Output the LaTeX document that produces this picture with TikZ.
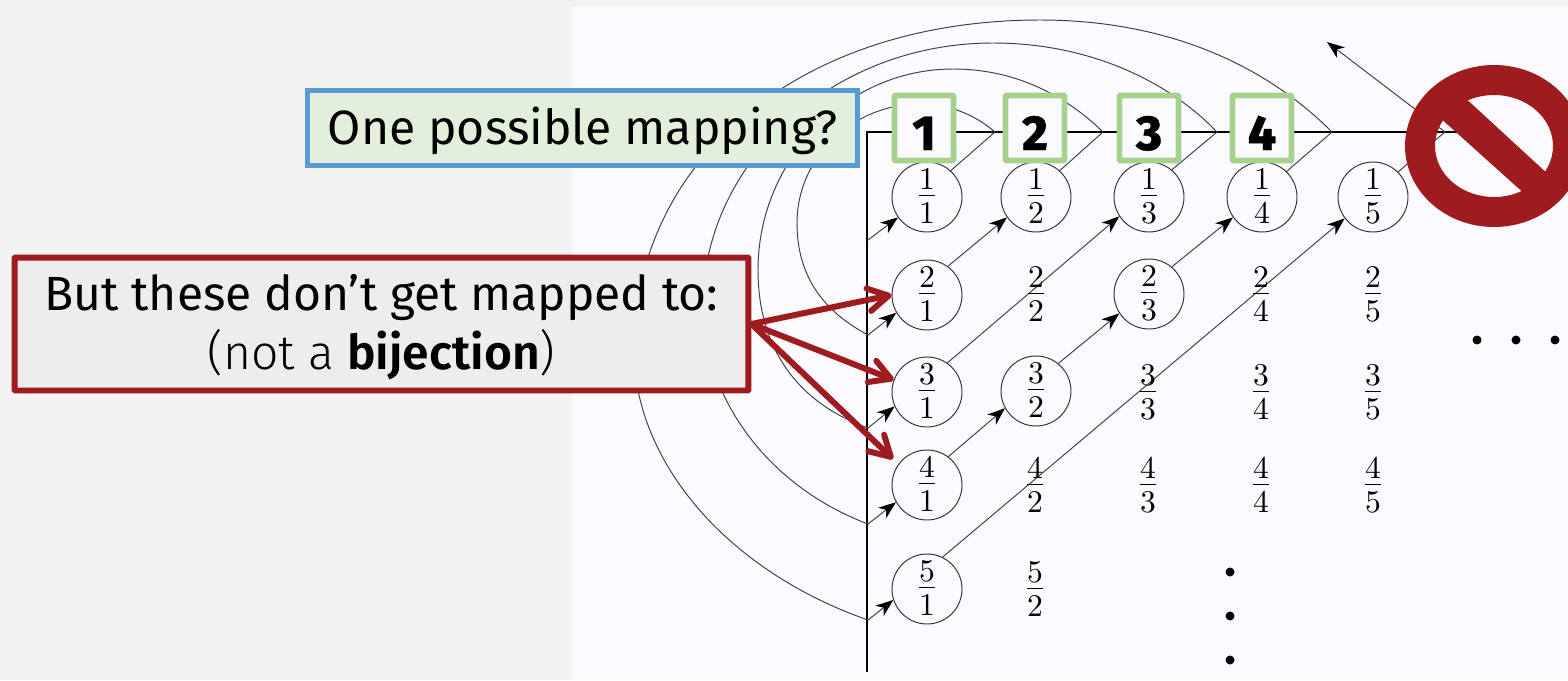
\documentclass[tikz,border=0pt]{standalone}
\usepackage{amsmath}
\usepackage{fontspec}
\setmainfont{Fira Sans}
\newfontfamily\firalight{Fira Sans Light}
\newfontfamily\firasemi{Fira Sans SemiBold}
\newfontfamily\firaheavy[FakeBold=0.6]{Fira Sans ExtraBold}
\usetikzlibrary{positioning, arrows.meta}

\definecolor{panelgray}{HTML}{F2F2F2}
\definecolor{slidewhite}{HTML}{FBFBFF}
\definecolor{warnred}{HTML}{9E1B20}
\definecolor{notegreen}{HTML}{E2EFDA}
\definecolor{noteblue}{HTML}{5B9BD5}
\definecolor{boxgreen}{HTML}{A9D18E}
\definecolor{notegray}{HTML}{EDEDED}

\newcommand{\scfrac}[2]{\scalebox{1.8}{$\dfrac{\raisebox{-2.2pt}{$#1$}}{\raisebox{0.6pt}{$#2$}}$}}
\newcommand{\lowtext}[1]{\raisebox{-1.8pt}[\height][\depth]{#1}}

\tikzset{
  fracnode/.style={inner sep=0pt},
  circnode/.style={fracnode, draw=black!80, line width=0.55pt, circle, minimum size=1.4cm},
  numbox/.style={draw=boxgreen, fill=slidewhite, line width=3.3pt, rounded corners=0.5pt, minimum width=1.18cm, minimum height=1.3cm, inner sep=0pt, text height=0.88cm, text depth=0pt, font=\firaheavy\fontsize{28}{30}\selectfont},
  thinline/.style={draw=black!75, line width=0.55pt},
  thinarrow/.style={thinline, -{Stealth[black,length=10pt,width=7.5pt,inset=3pt]}},
  axisline/.style={line width=1.5pt},
  redarrow/.style={draw=warnred, line width=3.4pt, line cap=round, -{Straight Barb[round,length=11.5pt,width=13pt]}},
  dotnode/.style={circle, fill=black, inner sep=0pt, minimum size=0.18cm},
}

\begin{document}
\begin{tikzpicture}[x=0.02cm,y=-0.02cm]
\useasboundingbox (0,0) rectangle (1568,680);
\fill[panelgray] (0,0) rectangle (1568,680);
\fill[slidewhite] (572,6) rectangle (1568,680);

\coordinate (j1) at (995,132);
\coordinate (j2) at (1103,132);
\coordinate (j3) at (1217,132);
\coordinate (j4) at (1332,132);
\coordinate (j5) at (1445,132);
\coordinate (e1) at (868,240);
\coordinate (e2) at (868,335);
\coordinate (e3) at (868,428);
\coordinate (e4) at (868,524);
\coordinate (e5) at (868,620);
\coordinate (out) at (1327,42);
\coordinate (tip41) at (893,459);

\node[circnode] (n11) at (927,197) {\scfrac{1}{1}};
\node[circnode] (n12) at (1036,197) {\scfrac{1}{2}};
\node[circnode] (n13) at (1149,197) {\scfrac{1}{3}};
\node[circnode] (n14) at (1262,197) {\scfrac{1}{4}};
\node[circnode] (n15) at (1373,197) {\scfrac{1}{5}};
\node[circnode] (n21) at (927,295) {\scfrac{2}{1}};
\node[circnode] (n23) at (1149,294) {\scfrac{2}{3}};
\node[circnode] (n31) at (927,392) {\scfrac{3}{1}};
\node[circnode] (n32) at (1036,391) {\scfrac{3}{2}};
\node[circnode] (n41) at (927,485) {\scfrac{4}{1}};
\node[circnode] (n51) at (927,589) {\scfrac{5}{1}};

% axes
\draw[axisline] (1470,132) -- (867,132) -- (867,672);

% arcs
\draw[thinline] (j1) .. controls (975,115) and (950,104) .. (920,104) .. controls (852,104) and (797,158) .. (797,223) .. controls (797,278) and (825,312) .. (e2);
\draw[thinline] (j2) .. controls (1065,95) and (1015,69) .. (953,69) .. controls (846,69) and (758,160) .. (758,270) .. controls (758,340) and (790,400) .. (e3);
\draw[thinline] (j3) .. controls (1165,78) and (1085,43) .. (993,43) .. controls (830,43) and (703,165) .. (703,305) .. controls (703,395) and (765,485) .. (e4);
\draw[thinline] (j4) .. controls (1260,60) and (1160,20) .. (1040,20) .. controls (800,20) and (634,160) .. (634,350) .. controls (634,460) and (725,570) .. (e5);

% diagonals
\draw[thinarrow] (e1) -- (n11.215);
\draw[thinarrow] (e2) -- (n21.210);
\draw[thinarrow] (e3) -- (n31.204);
\draw[thinarrow] (e4) -- (n41.209);
\draw[thinarrow] (e5) -- (n51.198);
\draw[thinline] (n11.48) -- (j1);
\draw[thinline] (n12.48) -- (j2);
\draw[thinline] (n13.50) -- (j3);
\draw[thinline] (n14.46) -- (j4);
\draw[thinline] (n15.45) -- (j5);
\draw[thinarrow] (j5) -- (out);
\draw[thinarrow] (n21.54) -- (n12.215);
\draw[thinarrow] (n31.55) -- (n13.213);
\draw[thinarrow] (n41.53) -- (n32.209);
\draw[thinarrow] (n32.51) -- (n23.213);
\draw[thinarrow] (n23.50) -- (n14.215);
\draw[thinarrow] (n51.64) -- (n15.217);

\node[fracnode] (n22) at (1036,295) {\scfrac{2}{2}};
\node[fracnode] (n24) at (1261,295) {\scfrac{2}{4}};
\node[fracnode] (n25) at (1373,295) {\scfrac{2}{5}};
\node[fracnode] (n33) at (1148,393) {\scfrac{3}{3}};
\node[fracnode] (n34) at (1261,393) {\scfrac{3}{4}};
\node[fracnode] (n35) at (1373,393) {\scfrac{3}{5}};
\node[fracnode] (n42) at (1035,486) {\scfrac{4}{2}};
\node[fracnode] (n43) at (1148,486) {\scfrac{4}{3}};
\node[fracnode] (n44) at (1261,486) {\scfrac{4}{4}};
\node[fracnode] (n45) at (1373,486) {\scfrac{4}{5}};
\node[fracnode] (n52) at (1035,590) {\scfrac{5}{2}};

\node[dotnode] (vdot1) at (1230,572) {};
\node[dotnode] (vdot2) at (1230,616) {};
\node[dotnode] (vdot3) at (1230,660) {};
\node[dotnode] (hdot1) at (1477,340) {};
\node[dotnode] (hdot2) at (1516,340) {};
\node[dotnode] (hdot3) at (1555,340) {};

\node[numbox] (box1) at (924,128) {1};
\node[numbox] (box2) at (1035,128) {2};
\node[numbox] (box3) at (1149,128) {3};
\node[numbox] (box4) at (1262,128) {4};

% no sign
\fill[warnred, even odd rule] (1494,146) ellipse (89 and 81) (1494,146) ellipse (59 and 51);
\fill[warnred] (1462,95) -- (1550,176) -- (1527,196) -- (1438,116) -- cycle;

\node[draw=noteblue, fill=notegreen, line width=2.8pt, minimum width=11cm, minimum height=1.5cm, inner sep=0pt, font=\fontsize{27.4}{32}\selectfont] (mapnote) at (582.5,128) {\lowtext{One possible mapping?}};

\node[draw=warnred, fill=notegray, line width=3.4pt, rounded corners=0.5pt, minimum width=14.68cm, minimum height=2.66cm, inner sep=0pt, align=center, font=\fontsize{27.3}{33.4}\selectfont] (warnnote) at (381.5,324) {\lowtext{But these don’t get mapped to:}\\\lowtext{{\firalight (not a }{\firasemi bijection}{\firalight )}}};

\draw[redarrow] (warnnote.east) -- (n21.west);
\draw[redarrow] (warnnote.east) -- (n31.160);
\draw[redarrow] (warnnote.east) -- (tip41);
\end{tikzpicture}
\end{document}
